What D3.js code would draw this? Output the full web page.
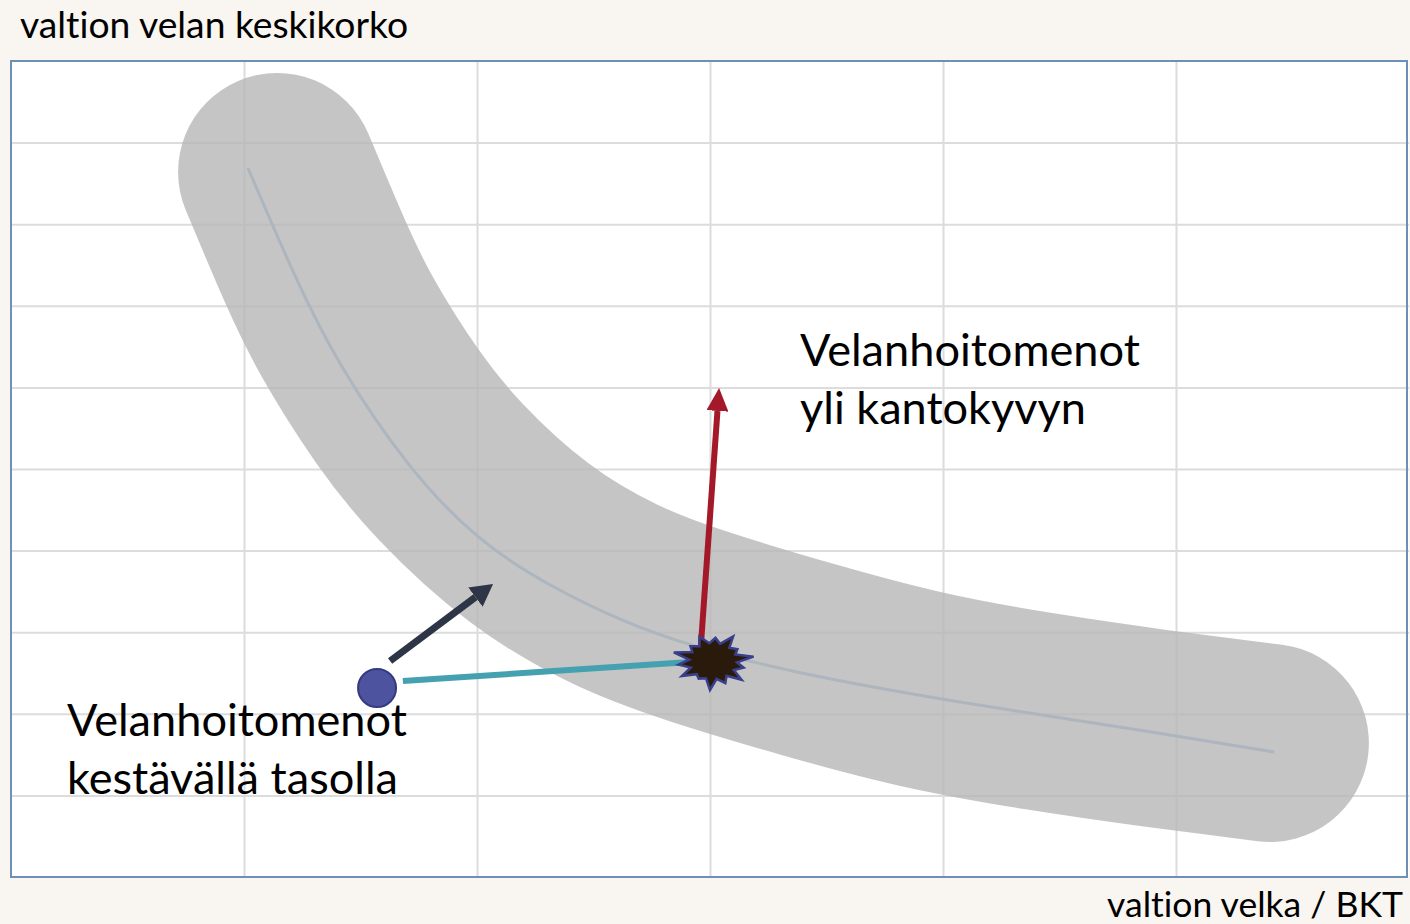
<!DOCTYPE html>
<html>
<head>
<meta charset="utf-8">
<script src="https://cdn.jsdelivr.net/npm/d3@7"></script>
<style>
  html, body { margin: 0; padding: 0; background: #f9f5f0; }
  svg { display: block; }
  text { font-family: Lato, "Open Sans", sans-serif; fill: #000; font-variant-ligatures: none; }
</style>
</head>
<body>
<svg width="1410" height="924"></svg>
<script>
// Grid ticks (axes carry no labels in the original)
const xTicks = [1, 2, 3, 4, 5];
const yTicks = [1, 2, 3, 4, 5, 6, 7, 8, 9];

// Wide gray band, centre line
const bandX = [1.142, 1.313, 1.429, 1.661, 1.863, 2.219, 2.601, 2.931, 3.421, 3.906, 4.416, 4.923, 5.403];
const bandY = [8.640, 7.475, 6.777, 5.723, 5.000, 4.044, 3.419, 3.076, 2.659, 2.279, 2.022, 1.814, 1.642];

// Thin line drawn inside the band
const lineX = [1.017, 1.223, 1.399, 1.708, 2.013, 2.318, 2.627, 2.931, 3.343, 3.996, 4.987, 5.421];
const lineY = [8.689, 7.316, 6.299, 4.988, 4.093, 3.554, 3.125, 2.819, 2.512, 2.169, 1.740, 1.532];

// Markers
const dotPoint = [1.571, 2.316];
const tealLine = [[1.682, 2.402], [2.914, 2.635]];
const starPoint = [3.013, 2.647];
const redArrow = [[2.961, 2.843], [3.039, 5.993]];
const darkArrow = [[1.627, 2.647], [2.069, 3.591]];

// Labels
const yTitle = "valtion velan keskikorko";
const xTitle = "valtion velka / BKT";
const upperNote = ["Velanhoitomenot", "yli kantokyvyn"];
const lowerNote = ["Velanhoitomenot", "kestävällä tasolla"];

const svg = d3.select("svg");
const plot = { left: 11, right: 1409, top: 61, bottom: 877 };

const x = d3.scaleLinear().domain([0, 6]).range([plot.left, plot.right]);
const y = d3.scaleLinear().domain([0, 10]).range([plot.bottom, plot.top]);

// Plot background
svg.append("rect")
    .attr("x", plot.left).attr("y", plot.top)
    .attr("width", plot.right - plot.left).attr("height", plot.bottom - plot.top)
    .attr("fill", "#fff");

// Gridlines via axes
const gx = svg.append("g")
    .attr("transform", `translate(0,${plot.bottom})`)
    .call(d3.axisBottom(x).tickValues(xTicks).tickSize(-(plot.bottom - plot.top)).tickFormat(""));
const gy = svg.append("g")
    .attr("transform", `translate(${plot.left},0)`)
    .call(d3.axisLeft(y).tickValues(yTicks).tickSize(-(plot.right - plot.left)).tickFormat(""));
[gx, gy].forEach(g => {
    g.select(".domain").remove();
    g.selectAll(".tick line").attr("stroke", "#dcdcdc").attr("stroke-width", 2);
});

// B-spline keeps the thick stroke free of kinks
const curve = d3.line()
    .x(d => x(d[0]))
    .y(d => y(d[1]))
    .curve(d3.curveBasis);

// Band
svg.append("path")
    .attr("d", curve(bandX.map((v, i) => [v, bandY[i]])))
    .attr("fill", "none")
    .attr("stroke", "#b7b7b7")
    .attr("stroke-opacity", 0.8)
    .attr("stroke-width", 198)
    .attr("stroke-linecap", "round")
    .attr("stroke-linejoin", "round");

// Thin centre line
svg.append("path")
    .attr("d", curve(lineX.map((v, i) => [v, lineY[i]])))
    .attr("fill", "none")
    .attr("stroke", "#adb6be")
    .attr("stroke-width", 3);

// Plot border
svg.append("rect")
    .attr("x", plot.left).attr("y", plot.top)
    .attr("width", plot.right - plot.left - 2).attr("height", plot.bottom - plot.top)
    .attr("fill", "none")
    .attr("stroke", "#6f90b6")
    .attr("stroke-width", 2);

// Arrow heads
const defs = svg.append("defs");
function addMarker(id, color, len, half) {
    defs.append("marker")
        .attr("id", id)
        .attr("markerUnits", "userSpaceOnUse")
        .attr("viewBox", `0 ${-half} ${len} ${half * 2}`)
        .attr("refX", 0).attr("refY", 0)
        .attr("markerWidth", len).attr("markerHeight", half * 2)
        .attr("orient", "auto")
        .append("path")
        .attr("d", `M0,${-half}L${len},0L0,${half}Z`)
        .attr("fill", color);
}
addMarker("head-red", "#a3192a", 23, 11);
addMarker("head-dark", "#2e3546", 22, 12);

// shorten a segment so the marker tip lands on the end point
function shortened(seg, by) {
    const x1 = x(seg[0][0]), y1 = y(seg[0][1]);
    const x2 = x(seg[1][0]), y2 = y(seg[1][1]);
    const l = Math.hypot(x2 - x1, y2 - y1);
    return [x1, y1, x2 - (x2 - x1) * by / l, y2 - (y2 - y1) * by / l];
}

// Teal line from dot to star
svg.append("line")
    .attr("x1", x(tealLine[0][0])).attr("y1", y(tealLine[0][1]))
    .attr("x2", x(tealLine[1][0])).attr("y2", y(tealLine[1][1]))
    .attr("stroke", "#45a0b0")
    .attr("stroke-width", 6);

// Dark arrow
const da = shortened(darkArrow, 22);
svg.append("line")
    .attr("x1", da[0]).attr("y1", da[1]).attr("x2", da[2]).attr("y2", da[3])
    .attr("stroke", "#2e3546")
    .attr("stroke-width", 7)
    .attr("marker-end", "url(#head-dark)");

// Red arrow
const ra = shortened(redArrow, 23);
svg.append("line")
    .attr("x1", ra[0]).attr("y1", ra[1]).attr("x2", ra[2]).attr("y2", ra[3])
    .attr("stroke", "#a3192a")
    .attr("stroke-width", 6)
    .attr("marker-end", "url(#head-red)");

// Explosion star
const spikes = [1.0, 0.78, 0.95, 0.82, 1.0, 0.7, 0.92, 0.85, 1.0, 0.75, 0.9, 0.8, 0.98, 0.72];
const sx = x(starPoint[0]), sy = y(starPoint[1]);
const starPts = [];
spikes.forEach((f, i) => {
    const a0 = (i / spikes.length) * 2 * Math.PI - 0.15;
    const a1 = ((i + 0.5) / spikes.length) * 2 * Math.PI - 0.15;
    starPts.push([sx + Math.cos(a0) * 41 * f, sy + Math.sin(a0) * 29 * f]);
    starPts.push([sx + Math.cos(a1) * 24, sy + Math.sin(a1) * 18]);
});
svg.append("path")
    .attr("d", "M" + starPts.map(p => p.join(",")).join("L") + "Z")
    .attr("fill", "#2a1a0c")
    .attr("stroke", "#3a3f8c")
    .attr("stroke-width", 2.5)
    .attr("stroke-linejoin", "miter");

// Blue dot
svg.append("circle")
    .attr("cx", x(dotPoint[0])).attr("cy", y(dotPoint[1]))
    .attr("r", 19)
    .attr("fill", "#4d539f")
    .attr("stroke", "#343a80")
    .attr("stroke-width", 2);

// Text, sized so each line spans the same width as in the original
function fitText(sel, width) {
    sel.attr("font-size", 40);
    const w = sel.node().getComputedTextLength();
    const fs = 40 * width / w;
    sel.attr("font-size", fs);
    return fs;
}

fitText(svg.append("text").attr("x", 20).attr("y", 38).text(yTitle), 388);
fitText(svg.append("text").attr("x", 1403).attr("y", 917).attr("text-anchor", "end").text(xTitle), 296);

const up1 = svg.append("text").attr("x", 800).attr("y", 366).text(upperNote[0]);
const fsUp = fitText(up1, 340);
svg.append("text").attr("x", 800).attr("y", 424).attr("font-size", fsUp).text(upperNote[1]);

const lo1 = svg.append("text").attr("x", 67).attr("y", 736).text(lowerNote[0]);
const fsLo = fitText(lo1, 340);
svg.append("text").attr("x", 67).attr("y", 794).attr("font-size", fsLo).text(lowerNote[1]);
</script>
</body>
</html>
